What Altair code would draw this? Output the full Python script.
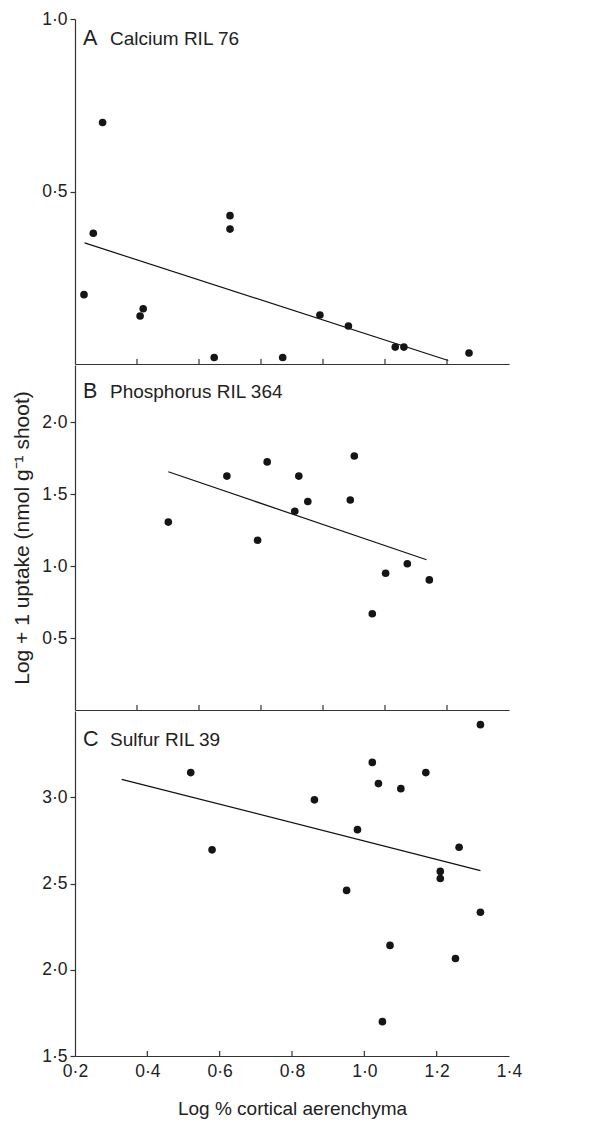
import altair as alt
import pandas as pd

FONT = "Liberation Sans"
INK = "#222222"

# ---------------- Panel A: Calcium RIL 76 ----------------
a_x = [0.029, 0.059, 0.089, 0.210, 0.220, 0.449, 0.500, 0.500, 0.670, 0.790, 0.882, 1.033, 1.061, 1.271]
a_y = [0.201, 0.379, 0.700, 0.139, 0.160, 0.019, 0.430, 0.391, 0.019, 0.142, 0.110, 0.049, 0.049, 0.032]
a_fit_x = [0.031, 1.204]
a_fit_y = [0.351, 0.010]

# ---------------- Panel B: Phosphorus RIL 364 ----------------
b_x = [0.301, 0.490, 0.589, 0.620, 0.709, 0.722, 0.751, 0.888, 0.901, 0.959, 1.002, 1.072, 1.143]
b_y = [1.307, 1.627, 1.181, 1.726, 1.383, 1.627, 1.450, 1.461, 1.767, 0.670, 0.951, 1.017, 0.905]
b_fit_x = [0.301, 1.134]
b_fit_y = [1.657, 1.045]

# ---------------- Panel C: Sulfur RIL 39 ----------------
c_x = [0.520, 0.579, 0.862, 0.951, 0.981, 1.022, 1.039, 1.050, 1.071, 1.101, 1.170, 1.210, 1.210, 1.262, 1.252, 1.321, 1.321]
c_y = [3.143, 2.695, 2.985, 2.460, 2.812, 3.202, 3.079, 1.699, 2.141, 3.050, 3.143, 2.570, 2.529, 2.710, 2.065, 3.421, 2.333]
c_fit_x = [0.329, 1.321]
c_fit_y = [3.104, 2.575]

# axes / ticks
ab_x_domain = [0.0, 1.4]
ab_x_ticks = [0.2, 0.4, 0.6, 0.8, 1.0, 1.2]
c_x_domain = [0.2, 1.4]
c_x_ticks = [0.4, 0.6, 0.8, 1.0, 1.2]
c_x_labels = [0.2, 0.4, 0.6, 0.8, 1.0, 1.2, 1.4]

a_y_domain = [0.0, 1.0]
a_y_ticks = [0.5, 1.0]
b_y_domain = [0.0, 2.4]
b_y_ticks = [0.5, 1.0, 1.5, 2.0]
c_y_domain = [1.5, 3.5]
c_y_ticks = [1.5, 2.0, 2.5, 3.0]

letters = ["A", "B", "C"]
names = ["Calcium RIL 76", "Phosphorus RIL 364", "Sulfur RIL 39"]
x_title = "Log % cortical aerenchyma"
y_title = "Log + 1 uptake (nmol g\u207b\u00b9 shoot)"

W = 434
H = 345
DOT = "replace(format(datum.value, '.1f'), '.', '\u00b7')"


def panel(px, py, fx, fy, xdom, ydom, yvals, xticks, letter, name, label_y,
          bottom=False, ytitle=None):
    df = pd.DataFrame({"x": px, "y": py})
    fit = pd.DataFrame({"x": fx, "y": fy})
    tk = pd.DataFrame({"x": xticks})

    xscale = alt.Scale(domain=xdom, nice=False, zero=False)
    yscale = alt.Scale(domain=ydom, nice=False, zero=False)

    if bottom:
        xaxis = alt.Axis(values=c_x_labels, labelExpr=DOT, tickSize=0,
                         labelPadding=6, titlePadding=20, title=x_title,
                         titleFontSize=19, labelFlush=False)
    else:
        xaxis = alt.Axis(labels=False, ticks=False, title=None, minExtent=0,
                         maxExtent=0)

    yaxis_kwargs = dict(values=yvals, labelExpr=DOT, tickSize=5, labelPadding=3,
                        labelFlush=False)
    if ytitle:
        yaxis = alt.Axis(title=ytitle, titlePadding=9, titleFontSize=21,
                         **yaxis_kwargs)
    else:
        yaxis = alt.Axis(title=None, **yaxis_kwargs)

    X = alt.X("x:Q", scale=xscale, axis=xaxis)
    Y = alt.Y("y:Q", scale=yscale, axis=yaxis)

    line = alt.Chart(fit).mark_line(color="#111111", strokeWidth=1.2).encode(x=X, y=Y)
    pts = alt.Chart(df).mark_circle(size=58, color="#151515", opacity=1).encode(x=X, y=Y)
    ticks = alt.Chart(tk).mark_rule(color="#333333", strokeWidth=1.2).encode(
        x=X, y=alt.value(H), y2=alt.value(H - 5))
    let = alt.Chart(pd.DataFrame({"t": [letter]})).mark_text(
        align="left", baseline="alphabetic", font=FONT, fontSize=21.5, color=INK
    ).encode(text="t:N", x=alt.value(8), y=alt.value(label_y))
    nm = alt.Chart(pd.DataFrame({"t": [name]})).mark_text(
        align="left", baseline="alphabetic", font=FONT, fontSize=19, color=INK
    ).encode(text="t:N", x=alt.value(35), y=alt.value(label_y))

    return alt.layer(line, pts, ticks, let, nm).properties(width=W, height=H)


pa = panel(a_x, a_y, a_fit_x, a_fit_y, ab_x_domain, a_y_domain, a_y_ticks,
           ab_x_ticks, letters[0], names[0], 26)
pb = panel(b_x, b_y, b_fit_x, b_fit_y, ab_x_domain, b_y_domain, b_y_ticks,
           ab_x_ticks, letters[1], names[1], 33, ytitle=y_title)
pc = panel(c_x, c_y, c_fit_x, c_fit_y, c_x_domain, c_y_domain, c_y_ticks,
           c_x_ticks, letters[2], names[2], 35, bottom=True)

chart = alt.vconcat(pa, pb, pc, spacing=0).resolve_scale(
    x="independent", y="independent"
).properties(
    padding={"left": 3, "top": 2, "right": 5, "bottom": 5}
).configure_view(strokeWidth=0).configure_axis(
    grid=False,
    domainColor="#333333",
    domainWidth=1.2,
    tickColor="#333333",
    tickWidth=1.2,
    labelColor=INK,
    titleColor=INK,
    labelFont=FONT,
    titleFont=FONT,
    labelFontSize=17.5,
    titleFontSize=18,
    titleFontWeight="normal",
)

chart.save("out.html", embed_options={"renderer": "svg", "actions": False})
